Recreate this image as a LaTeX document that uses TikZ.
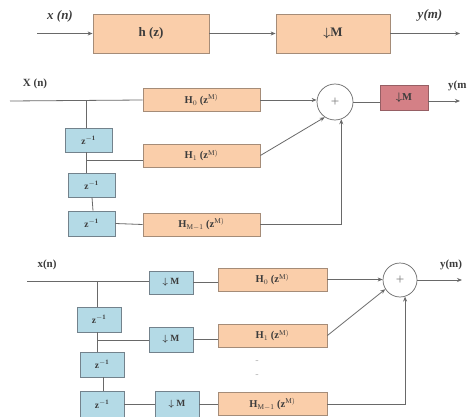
\documentclass[tikz,border=0pt]{standalone}
\usepackage{amsmath}
\usepackage{fontspec}
\setmainfont{Liberation Serif}
\usetikzlibrary{arrows.meta,calc}
\definecolor{peach}{RGB}{250,206,170}
\definecolor{peachline}{RGB}{165,140,120}
\definecolor{lblue}{RGB}{180,218,230}
\definecolor{blueline}{RGB}{115,130,140}
\definecolor{rosebox}{RGB}{212,128,134}
\definecolor{roseline}{RGB}{150,95,100}
\definecolor{wire}{RGB}{105,105,105}
\definecolor{txt}{RGB}{60,60,60}
\tikzset{
  pbox/.style={draw=peachline, fill=peach, line width=0.8pt, inner sep=0pt, text=txt, font=\fontsize{10.5}{11}\selectfont\bfseries},
  bbox/.style={draw=blueline, fill=lblue, line width=0.8pt, inner sep=0pt, text=txt, font=\fontsize{9.5}{10}\selectfont\bfseries},
  rbox/.style={draw=roseline, fill=rosebox, line width=0.8pt, inner sep=0pt, text=txt, font=\fontsize{10.5}{11}\selectfont\bfseries},
  sumnode/.style={circle, draw=wire, fill=white, line width=0.7pt, minimum size=#1, inner sep=0pt, text=gray, font=\fontsize{15}{15}\selectfont},
  wireline/.style={draw=wire, line width=0.8pt},
  arr/.style={wireline, -{Stealth[length=5pt,width=4pt]}},
  lbl/.style={text=txt, inner sep=0pt, font=\fontsize{11}{12}\selectfont\bfseries},
  dotmark/.style={text=gray!60, inner sep=0pt, font=\fontsize{10}{10}\selectfont}
}
\begin{document}
\begin{tikzpicture}[x=1pt,y=-1pt]
\useasboundingbox (0,0) rectangle (471,417);
\fill[white] (0,0) rectangle (471,417);

% ---------- top ----------
\node[pbox, minimum width=116pt, minimum height=39pt, font=\fontsize{13}{14}\selectfont\bfseries] (h) at (151,33.5) {h (z)};
\node[pbox, minimum width=114pt, minimum height=39pt, font=\fontsize{13}{14}\selectfont\bfseries] (dm) at (333,33.5) {$\boldsymbol{\downarrow}$M};
\coordinate (tin) at (37,33.5);
\coordinate (tout) at (460,33.5);
\node[lbl, font=\fontsize{13}{14}\selectfont\bfseries\itshape] (txn) at (60,16) {x (n)};
\node[lbl, font=\fontsize{13}{14}\selectfont\bfseries\itshape] (tym) at (430,15) {y(m)};
\draw[arr] (tin) -- (h.west);
\draw[arr] (h.east) -- (dm.west);
\draw[arr] (dm.east) -- (tout);

% ---------- middle ----------
\node[lbl] (mxn) at (35,84) {X (n)};
\coordinate (min) at (10,101);
\coordinate (mtap) at (86,101);
\node[pbox, minimum width=117pt, minimum height=23pt] (H0) at (201.5,100) {H$_0$ (z$^{\mathrm{M)}}$};
\node[pbox, minimum width=117pt, minimum height=23pt] (H1) at (201.5,155.5) {H$_1$ (z$^{\mathrm{M)}}$};
\node[pbox, minimum width=117pt, minimum height=23pt] (HM) at (201.5,224.5) {H$_{\mathrm{M-1}}$ (z$^{\mathrm{M)}}$};
\node[bbox, minimum width=47pt, minimum height=24pt] (z1) at (88.5,140) {z$^{\mathbf{-1}}$};
\node[bbox, minimum width=47pt, minimum height=24pt] (z2) at (91.5,185) {z$^{\mathbf{-1}}$};
\node[bbox, minimum width=47pt, minimum height=25pt] (z3) at (91.5,223.5) {z$^{\mathbf{-1}}$};
\node[sumnode=36pt] (s1) at (335,102) {+};
\node[rbox, minimum width=48pt, minimum height=25pt] (rm) at (404,97.5) {$\boldsymbol{\downarrow}$M};
\coordinate (mout) at (460,101);
\coordinate (mtap1) at (86,160);
\node[lbl, anchor=west] (mym) at (448,86) {y(m};
\draw[wireline] (min) -- (H0.west);
\draw[wireline] (mtap) -- (mtap |- z1.north);
\draw[wireline] (mtap |- z1.south) -- (mtap |- z2.north);
\draw[wireline] (mtap1) -- (mtap1 -| H1.west);
\draw[wireline] ($(z2.south)+(0.5,0)$) -- ($(z3.north)+(1.5,0)$);
\draw[wireline] (z3.east) -- (HM.west);
\draw[arr] (H0.east) -- (H0.east -| s1.west);
\draw[arr] (H1.east) -- (s1.236);
\draw[arr] (HM.east) -| (s1.-70);
\draw[wireline] (s1.east) -- (s1.east -| rm.west);
\draw[arr] (mout -| rm.east) -- (mout);

% ---------- bottom ----------
\node[lbl] (bxn) at (47,265) {x(n)};
\coordinate (bin) at (27,281);
\coordinate (btap) at (97,281);
\coordinate (btap1) at (97,340);
\node[bbox, minimum width=44pt, minimum height=23pt] (D1) at (171,282.5) {$\boldsymbol{\downarrow}$ M};
\node[bbox, minimum width=44pt, minimum height=25pt] (D2) at (171,339.5) {$\boldsymbol{\downarrow}$ M};
\node[bbox, minimum width=44pt, minimum height=26pt] (D3) at (177,404) {$\boldsymbol{\downarrow}$ M};
\node[bbox, minimum width=44pt, minimum height=25pt] (Z1) at (99,319.5) {z$^{\mathbf{-1}}$};
\node[bbox, minimum width=44pt, minimum height=25pt] (Z2) at (102,364.5) {z$^{\mathbf{-1}}$};
\node[bbox, minimum width=44pt, minimum height=26pt] (Z3) at (102,404) {z$^{\mathbf{-1}}$};
\node[pbox, minimum width=109pt, minimum height=23pt] (G0) at (272.5,279.5) {H$_0$ (z$^{\mathrm{M)}}$};
\node[pbox, minimum width=109pt, minimum height=23pt] (G1) at (272.5,335.5) {H$_1$ (z$^{\mathrm{M)}}$};
\node[pbox, minimum width=109pt, minimum height=23pt] (G3) at (272.5,404) {H$_{\mathrm{M-1}}$ (z$^{\mathrm{M)}}$};
\node[dotmark] (dA) at (257,362) {-};
\node[dotmark] (dB) at (257,376) {-};
\node[sumnode=34pt] (s2) at (400,280) {+};
\coordinate (bout) at (462,280);
\node[lbl] (bym) at (451,265) {y(m)};
\draw[wireline] (bin) -- (bin -| D1.west);
\draw[wireline] (btap) -- (btap |- Z1.north);
\draw[wireline] (btap |- Z1.south) -- (btap |- Z2.north);
\draw[wireline] (btap1) -- (btap1 -| D2.west);
\draw[wireline] ($(Z2.south)+(1,0)$) -- ($(Z3.north)+(1,0)$);
\draw[wireline] (Z3.east) -- (D3.west);
\draw[wireline] (D1.east) -- (D1.east -| G0.west);
\draw[wireline] (D2.east) -- (D2.east -| G1.west);
\draw[wireline] (D3.east) -- (G3.west);
\draw[arr] (G0.east) -- (G0.east -| s2.west);
\draw[arr] (G1.east) -- (s2.212);
\draw[arr] (G3.east) -| (s2.-73);
\draw[arr] (s2.east) -- (bout);
\end{tikzpicture}
\end{document}
